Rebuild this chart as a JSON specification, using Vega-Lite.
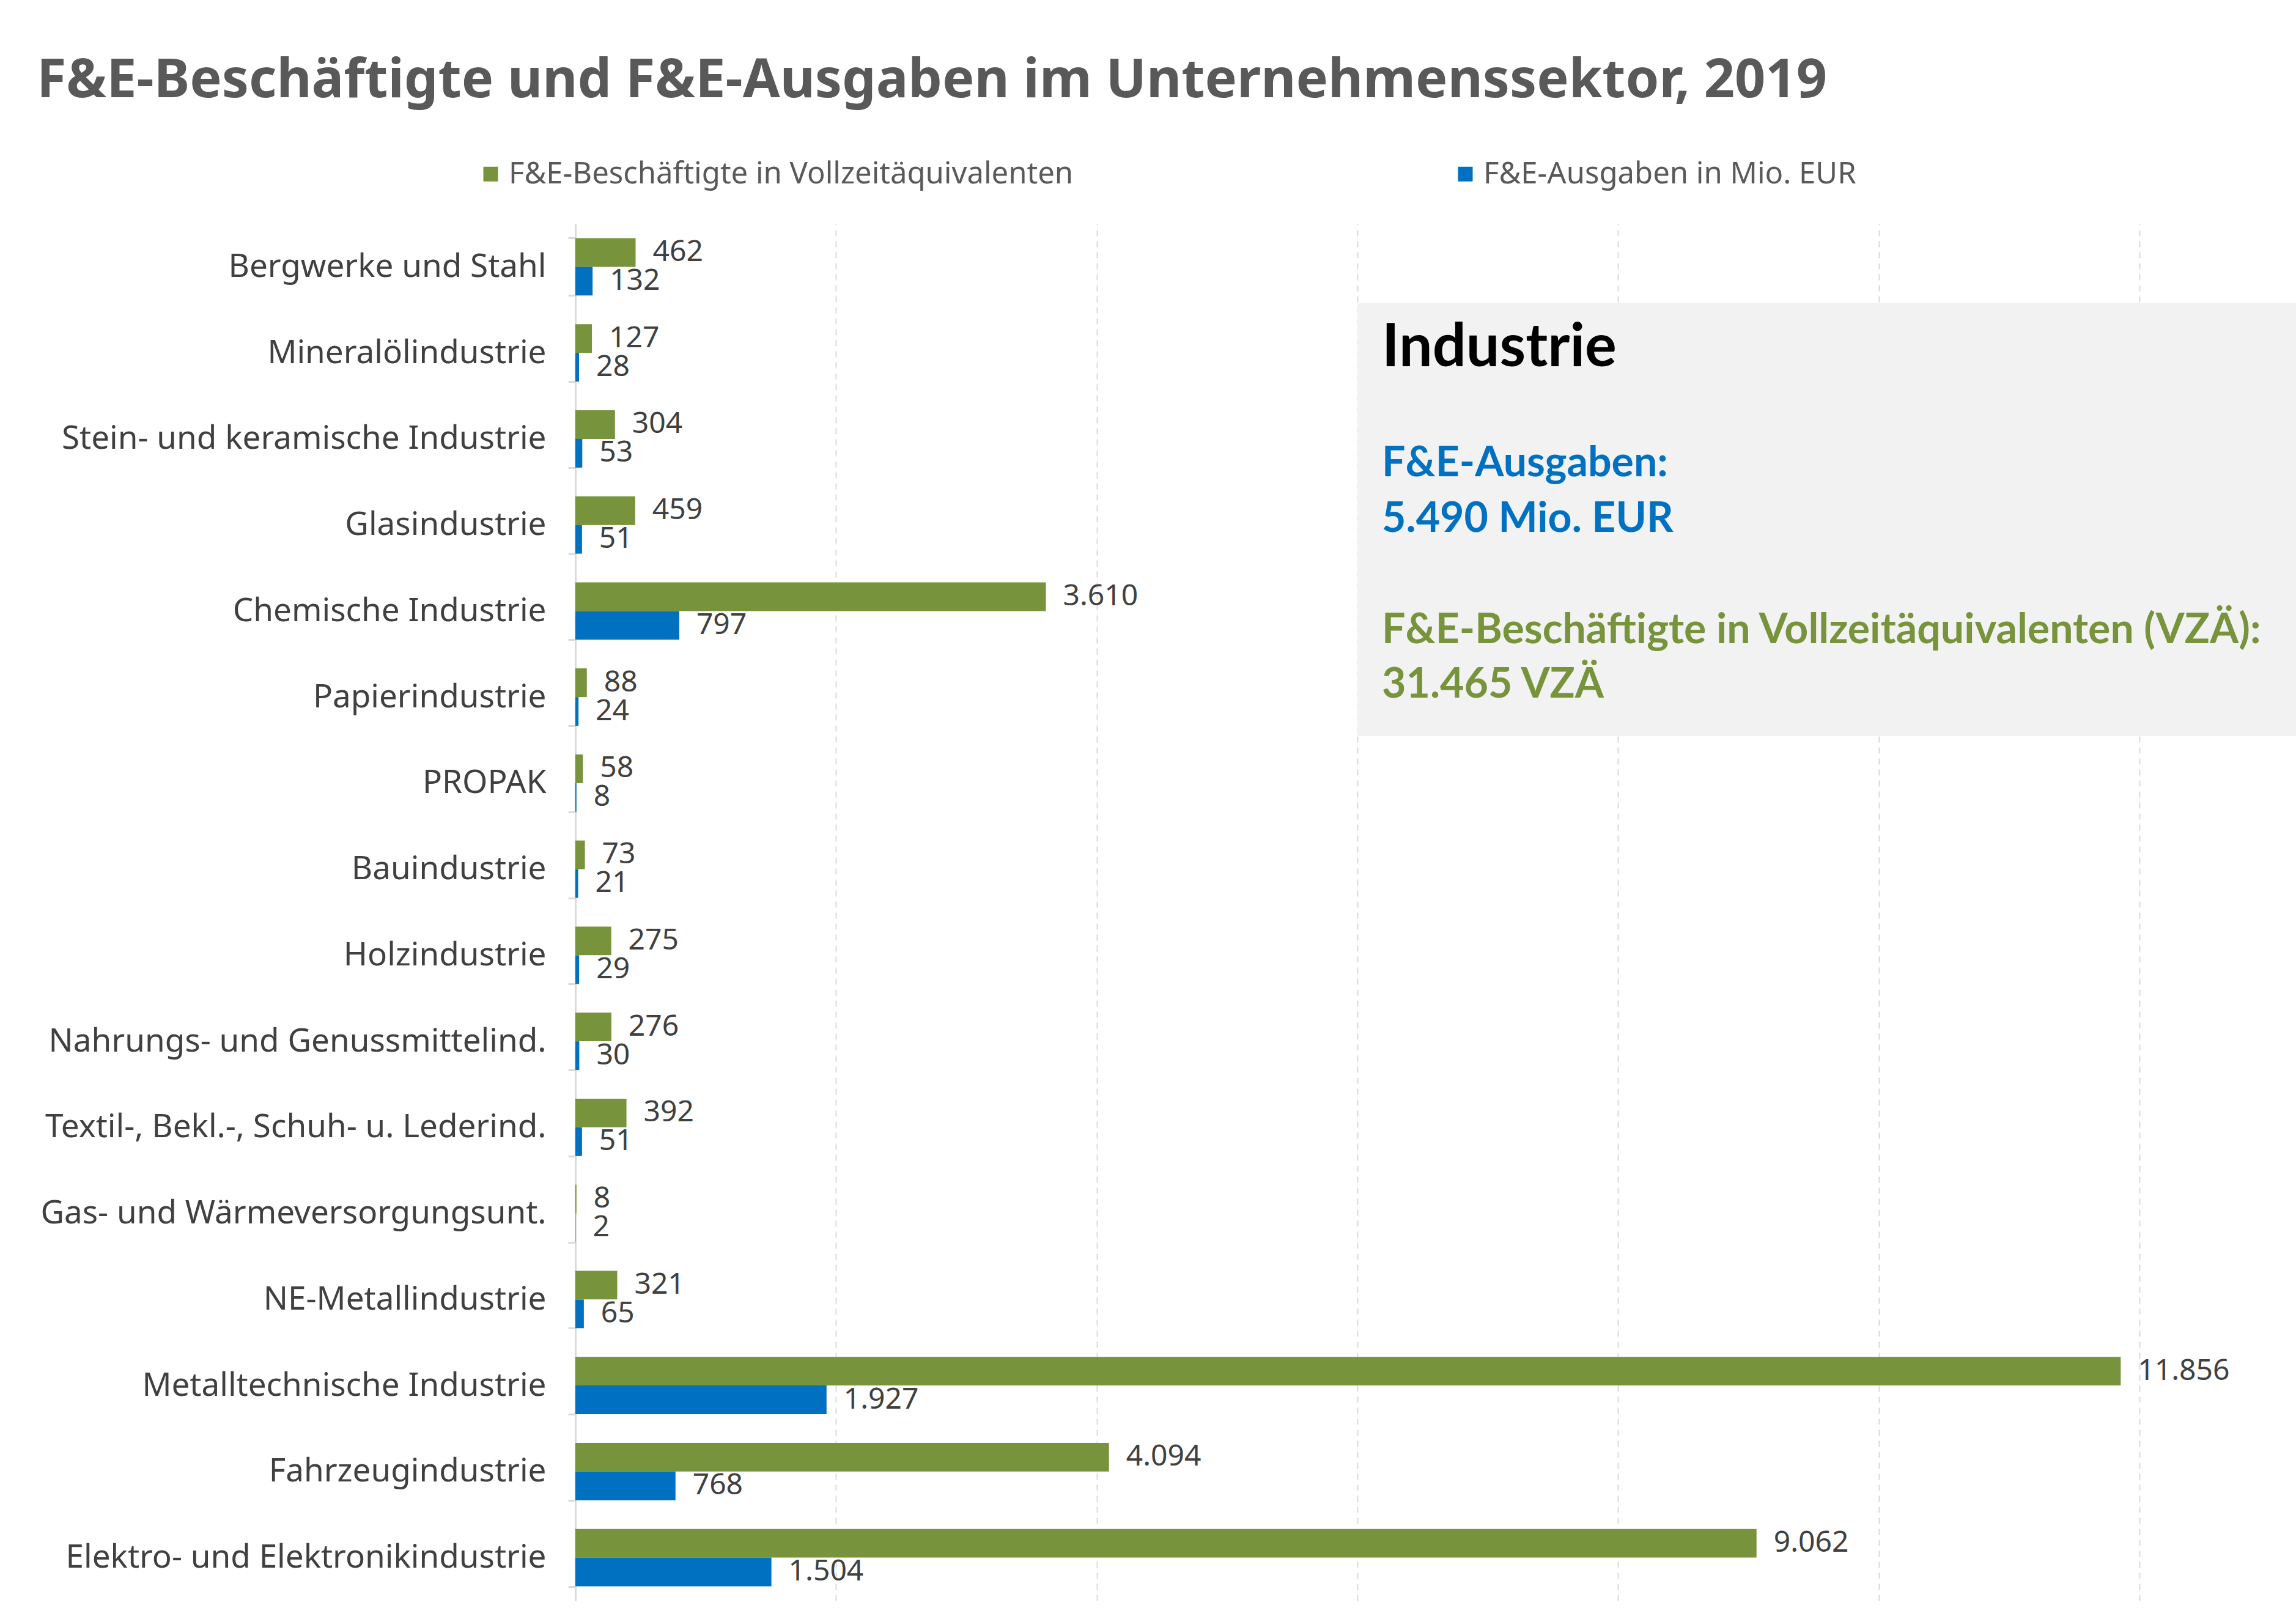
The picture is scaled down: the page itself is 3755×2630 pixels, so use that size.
{
  "$schema": "https://vega.github.io/schema/vega-lite/v6.json",
  "width": 2558,
  "height": 2252,
  "autosize": {"type": "none"},
  "padding": {"left": 941, "top": 366, "right": 256, "bottom": 12},
  "background": "white",
  "title": {
    "text": "F&E-Beschäftigte und F&E-Ausgaben im Unternehmenssektor, 2019",
    "anchor": "start",
    "frame": "group",
    "dx": -881,
    "offset": 13,
    "baseline": "alphabetic",
    "font": "Noto Sans",
    "fontSize": 88,
    "fontWeight": "bold",
    "color": "#595959"
  },
  "config": {
    "locale": {"number": {"decimal": ",", "thousands": ".", "grouping": [3], "currency": ["", " €"]}},
    "view": {"stroke": null},
    "axisX": {
      "labels": false,
      "ticks": false,
      "domain": false,
      "grid": true,
      "gridColor": "#D9D9D9",
      "gridWidth": 2,
      "gridDash": [10, 8],
      "tickCount": 6,
      "title": null
    },
    "axisY": {
      "title": null,
      "labelFont": "Noto Sans",
      "labelFontSize": 53,
      "labelColor": "#404040",
      "labelPadding": 36,
      "labelLimit": 1200,
      "domainColor": "#D9D9D9",
      "domainWidth": 3,
      "tickColor": "#D9D9D9",
      "tickSize": 12,
      "tickWidth": 3,
      "tickBand": "extent",
      "grid": false
    }
  },
  "data": {
    "values": [
      {"Branche": "Bergwerke und Stahl", "Kennzahl": "F&E-Beschäftigte in Vollzeitäquivalenten", "Wert": 462},
      {"Branche": "Bergwerke und Stahl", "Kennzahl": "F&E-Ausgaben in Mio. EUR", "Wert": 132},
      {"Branche": "Mineralölindustrie", "Kennzahl": "F&E-Beschäftigte in Vollzeitäquivalenten", "Wert": 127},
      {"Branche": "Mineralölindustrie", "Kennzahl": "F&E-Ausgaben in Mio. EUR", "Wert": 28},
      {"Branche": "Stein- und keramische Industrie", "Kennzahl": "F&E-Beschäftigte in Vollzeitäquivalenten", "Wert": 304},
      {"Branche": "Stein- und keramische Industrie", "Kennzahl": "F&E-Ausgaben in Mio. EUR", "Wert": 53},
      {"Branche": "Glasindustrie", "Kennzahl": "F&E-Beschäftigte in Vollzeitäquivalenten", "Wert": 459},
      {"Branche": "Glasindustrie", "Kennzahl": "F&E-Ausgaben in Mio. EUR", "Wert": 51},
      {"Branche": "Chemische Industrie", "Kennzahl": "F&E-Beschäftigte in Vollzeitäquivalenten", "Wert": 3610},
      {"Branche": "Chemische Industrie", "Kennzahl": "F&E-Ausgaben in Mio. EUR", "Wert": 797},
      {"Branche": "Papierindustrie", "Kennzahl": "F&E-Beschäftigte in Vollzeitäquivalenten", "Wert": 88},
      {"Branche": "Papierindustrie", "Kennzahl": "F&E-Ausgaben in Mio. EUR", "Wert": 24},
      {"Branche": "PROPAK", "Kennzahl": "F&E-Beschäftigte in Vollzeitäquivalenten", "Wert": 58},
      {"Branche": "PROPAK", "Kennzahl": "F&E-Ausgaben in Mio. EUR", "Wert": 8},
      {"Branche": "Bauindustrie", "Kennzahl": "F&E-Beschäftigte in Vollzeitäquivalenten", "Wert": 73},
      {"Branche": "Bauindustrie", "Kennzahl": "F&E-Ausgaben in Mio. EUR", "Wert": 21},
      {"Branche": "Holzindustrie", "Kennzahl": "F&E-Beschäftigte in Vollzeitäquivalenten", "Wert": 275},
      {"Branche": "Holzindustrie", "Kennzahl": "F&E-Ausgaben in Mio. EUR", "Wert": 29},
      {"Branche": "Nahrungs- und Genussmittelind.", "Kennzahl": "F&E-Beschäftigte in Vollzeitäquivalenten", "Wert": 276},
      {"Branche": "Nahrungs- und Genussmittelind.", "Kennzahl": "F&E-Ausgaben in Mio. EUR", "Wert": 30},
      {"Branche": "Textil-, Bekl.-, Schuh- u. Lederind.", "Kennzahl": "F&E-Beschäftigte in Vollzeitäquivalenten", "Wert": 392},
      {"Branche": "Textil-, Bekl.-, Schuh- u. Lederind.", "Kennzahl": "F&E-Ausgaben in Mio. EUR", "Wert": 51},
      {"Branche": "Gas- und Wärmeversorgungsunt.", "Kennzahl": "F&E-Beschäftigte in Vollzeitäquivalenten", "Wert": 8},
      {"Branche": "Gas- und Wärmeversorgungsunt.", "Kennzahl": "F&E-Ausgaben in Mio. EUR", "Wert": 2},
      {"Branche": "NE-Metallindustrie", "Kennzahl": "F&E-Beschäftigte in Vollzeitäquivalenten", "Wert": 321},
      {"Branche": "NE-Metallindustrie", "Kennzahl": "F&E-Ausgaben in Mio. EUR", "Wert": 65},
      {"Branche": "Metalltechnische Industrie", "Kennzahl": "F&E-Beschäftigte in Vollzeitäquivalenten", "Wert": 11856},
      {"Branche": "Metalltechnische Industrie", "Kennzahl": "F&E-Ausgaben in Mio. EUR", "Wert": 1927},
      {"Branche": "Fahrzeugindustrie", "Kennzahl": "F&E-Beschäftigte in Vollzeitäquivalenten", "Wert": 4094},
      {"Branche": "Fahrzeugindustrie", "Kennzahl": "F&E-Ausgaben in Mio. EUR", "Wert": 768},
      {"Branche": "Elektro- und Elektronikindustrie", "Kennzahl": "F&E-Beschäftigte in Vollzeitäquivalenten", "Wert": 9062},
      {"Branche": "Elektro- und Elektronikindustrie", "Kennzahl": "F&E-Ausgaben in Mio. EUR", "Wert": 1504}
    ]
  },
  "layer": [
    {
      "encoding": {
        "y": {
          "field": "Branche",
          "type": "nominal",
          "sort": null,
          "scale": {"paddingInner": 0.333, "paddingOuter": 0.1667}
        },
        "yOffset": {
          "field": "Kennzahl",
          "type": "nominal",
          "scale": {"domain": ["F&E-Beschäftigte in Vollzeitäquivalenten", "F&E-Ausgaben in Mio. EUR"], "paddingInner": 0, "paddingOuter": 0}
        },
        "x": {
          "field": "Wert",
          "type": "quantitative",
          "scale": {"domain": [0, 12000], "nice": false}
        }
      },
      "layer": [
        {
          "mark": {"type": "bar"},
          "encoding": {
            "color": {
              "field": "Kennzahl",
              "type": "nominal",
              "scale": {"domain": ["F&E-Beschäftigte in Vollzeitäquivalenten", "F&E-Ausgaben in Mio. EUR"], "range": ["#77933C", "#0070C0"]},
              "legend": {
                "orient": "none",
                "legendX": -163,
                "legendY": -106,
                "direction": "horizontal",
                "title": null,
                "symbolType": "square",
                "symbolSize": 576,
                "symbolStrokeWidth": 0,
                "labelFont": "Noto Sans",
                "labelFontSize": 49,
                "labelColor": "#595959",
                "labelOffset": 5,
                "labelLimit": 1500,
                "columnPadding": 616
              }
            }
          }
        },
        {
          "mark": {"type": "text", "align": "left", "baseline": "middle", "dx": 28, "font": "Noto Sans", "fontSize": 48, "color": "#404040"},
          "encoding": {
            "text": {"field": "Wert", "type": "quantitative", "format": ",d"}
          }
        }
      ]
    },
    {
      "data": {"values": [{}]},
      "layer": [
        {
          "mark": {"type": "rect", "color": "#F2F2F2"},
          "encoding": {
            "x": {"datum": 6000, "type": "quantitative", "scale": {"domain": [0, 12000], "nice": false}},
            "x2": {"datum": 13300},
            "y": {"datum": 0.917, "type": "quantitative", "scale": {"domain": [0, 16], "reverse": true, "nice": false, "zero": false}, "axis": null},
            "y2": {"datum": 5.954}
          }
        },
        {
          "mark": {"type": "text", "text": "Industrie", "align": "left", "baseline": "alphabetic", "font": "Lato", "fontWeight": "bold", "fontSize": 97, "color": "#000000"},
          "encoding": {
            "x": {"datum": 6188, "type": "quantitative"},
            "y": {"datum": 1.655, "type": "quantitative"}
          }
        },
        {
          "mark": {"type": "text", "text": "F&E-Ausgaben:", "align": "left", "baseline": "alphabetic", "font": "Lato", "fontWeight": "bold", "fontSize": 68, "color": "#0070C0"},
          "encoding": {
            "x": {"datum": 6188, "type": "quantitative"},
            "y": {"datum": 2.934, "type": "quantitative"}
          }
        },
        {
          "mark": {"type": "text", "text": "5.490 Mio. EUR", "align": "left", "baseline": "alphabetic", "font": "Lato", "fontWeight": "bold", "fontSize": 68, "color": "#0070C0"},
          "encoding": {
            "x": {"datum": 6188, "type": "quantitative"},
            "y": {"datum": 3.581, "type": "quantitative"}
          }
        },
        {
          "mark": {"type": "text", "text": "F&E-Beschäftigte in Vollzeitäquivalenten (VZÄ):", "align": "left", "baseline": "alphabetic", "font": "Lato", "fontWeight": "bold", "fontSize": 68, "color": "#77933C"},
          "encoding": {
            "x": {"datum": 6188, "type": "quantitative"},
            "y": {"datum": 4.874, "type": "quantitative"}
          }
        },
        {
          "mark": {"type": "text", "text": "31.465 VZÄ", "align": "left", "baseline": "alphabetic", "font": "Lato", "fontWeight": "bold", "fontSize": 68, "color": "#77933C"},
          "encoding": {
            "x": {"datum": 6188, "type": "quantitative"},
            "y": {"datum": 5.506, "type": "quantitative"}
          }
        }
      ]
    }
  ],
  "resolve": {"scale": {"y": "independent"}}
}
